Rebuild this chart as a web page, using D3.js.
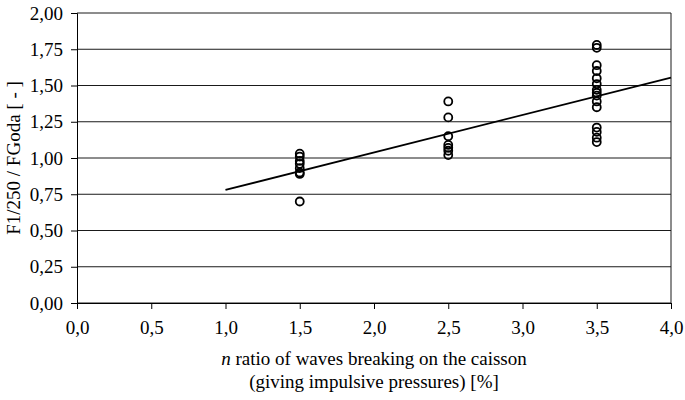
<!DOCTYPE html>
<html>
<head>
<meta charset="utf-8">
<script src="https://cdn.jsdelivr.net/npm/d3@7"></script>
<style>
  body { margin: 0; background: #fff; }
  text { font-family: "Liberation Serif", "Times New Roman", serif; }
</style>
</head>
<body>
<svg id="mainsvg" width="685" height="400"></svg>
<script>
// data
const groupX = [1.5, 2.5, 3.5];
const ratio15 = [1.03, 1.01, 0.98, 0.96, 0.93, 0.90, 0.89, 0.70];
const ratio25 = [1.39, 1.28, 1.15, 1.09, 1.07, 1.05, 1.02];
const ratio35 = [1.78, 1.76, 1.64, 1.60, 1.55, 1.51, 1.47, 1.45, 1.43, 1.39, 1.35, 1.21, 1.18, 1.14, 1.11];
const trendX = [1.0, 4.0];
const trendY = [0.78, 1.555];
const xTicks = [0, 0.5, 1, 1.5, 2, 2.5, 3, 3.5, 4];
const yTicks = [0, 0.25, 0.5, 0.75, 1, 1.25, 1.5, 1.75, 2];

const svg = d3.select('#mainsvg');
const margin = { top: 13, left: 77, right: 14, bottom: 97 };
const width = +svg.attr('width');
const height = +svg.attr('height');
const innerWidth = width - margin.left - margin.right;
const innerHeight = height - margin.top - margin.bottom;

const g = svg.append('g')
    .attr('transform', `translate(${margin.left},${margin.top})`);

const x = d3.scaleLinear().domain([0, 4]).range([0, innerWidth]);
const y = d3.scaleLinear().domain([0, 2]).range([innerHeight, 0]);
const comma = d => d3.format('.2f')(d).replace('.', ',');
const commaX = d => d3.format('.1f')(d).replace('.', ',');

// horizontal grid lines
g.selectAll('.grid').data(yTicks).enter()
    .append('line')
    .attr('x1', 0).attr('x2', innerWidth)
    .attr('y1', d => y(d)).attr('y2', d => y(d))
    .attr('stroke', '#1a1a1a')
    .attr('stroke-width', 1);

// right border
g.append('line')
    .attr('x1', innerWidth).attr('x2', innerWidth)
    .attr('y1', 0).attr('y2', innerHeight)
    .attr('stroke', '#1a1a1a');

const yAxis = d3.axisLeft(y).tickValues(yTicks).tickFormat(comma)
    .tickSize(6).tickPadding(8);
const xAxis = d3.axisBottom(x).tickValues(xTicks).tickFormat(commaX)
    .tickSize(6).tickPadding(12);

const ya = g.append('g').call(yAxis);
const xa = g.append('g').attr('transform', `translate(0,${innerHeight})`).call(xAxis);
[ya, xa].forEach(a => {
    a.select('.domain').attr('stroke', '#000');
    a.selectAll('line').attr('stroke', '#000');
    a.selectAll('text')
        .attr('font-size', 19)
        .attr('fill', '#000')
        .attr('font-family', '"Liberation Serif", serif');
});

// trend line
g.append('line')
    .attr('x1', x(trendX[0])).attr('y1', y(trendY[0]))
    .attr('x2', x(trendX[1])).attr('y2', y(trendY[1]))
    .attr('stroke', '#000')
    .attr('stroke-width', 1.8);

// points
const points = [];
[ratio15, ratio25, ratio35].forEach((arr, i) => {
    arr.forEach(v => points.push({ n: groupX[i], v: v }));
});
g.selectAll('circle').data(points).enter()
    .append('circle')
    .attr('cx', d => x(d.n))
    .attr('cy', d => y(d.v))
    .attr('r', 4)
    .attr('fill', 'none')
    .attr('stroke', '#000')
    .attr('stroke-width', 1.8);

// axis titles
svg.append('text')
    .attr('transform', `translate(20,${margin.top + innerHeight / 2}) rotate(-90)`)
    .attr('text-anchor', 'middle')
    .attr('font-size', 19)
    .text('F1/250 / FGoda [ - ]');

const t1 = svg.append('text')
    .attr('x', margin.left + innerWidth / 2)
    .attr('y', 365)
    .attr('text-anchor', 'middle')
    .attr('font-size', 19);
t1.append('tspan').attr('font-style', 'italic').text('n');
t1.append('tspan').text(' ratio of waves breaking on the caisson');

svg.append('text')
    .attr('x', margin.left + innerWidth / 2)
    .attr('y', 388)
    .attr('text-anchor', 'middle')
    .attr('font-size', 19)
    .text('(giving impulsive pressures) [%]');
</script>
</body>
</html>
